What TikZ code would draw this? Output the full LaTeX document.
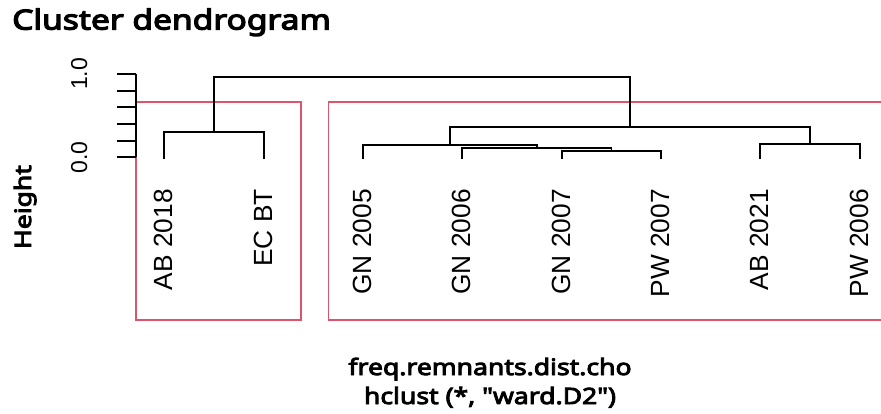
\documentclass[tikz,border=0pt]{standalone}
\usepackage{fontspec}
\setmainfont{Noto Sans}
\newfontfamily\bfnoto{Noto Sans}[FakeBold=4, FakeStretch=1.18]
\newfontfamily\bftitle{Noto Sans}[FakeBold=4.5, FakeStretch=1.22]
\newfontfamily\labfont{Liberation Sans}
\definecolor{rpink}{HTML}{DF536B}
\begin{document}
\begin{tikzpicture}[x=1pt,y=-1pt,
  dline/.style={line width=1.9pt, line cap=rect},
  pbox/.style={draw=rpink, line width=1.9pt},
  leaflab/.style={rotate=90, anchor=base east, inner sep=0pt, font=\labfont\fontsize{26.3}{30}\selectfont},
  ticklab/.style={rotate=90, anchor=base, inner sep=0pt, font=\labfont\fontsize{23}{27}\selectfont},
  boldlab/.style={inner sep=0pt, font=\bfnoto\fontsize{22.5}{27}\selectfont}]
\useasboundingbox (0,0) rectangle (881,413);
% leaves
\coordinate (l1) at (164,158);
\coordinate (l2) at (264,158);
\coordinate (l3) at (363,158);
\coordinate (l4) at (462,158);
\coordinate (l5) at (562,158);
\coordinate (l6) at (661,158);
\coordinate (l7) at (760,158);
\coordinate (l8) at (860,158);
% merges
\coordinate (m1) at (214,131.7);
\coordinate (m2) at (611.5,151);
\coordinate (m3) at (537,148.3);
\coordinate (m4) at (450,145);
\coordinate (m5) at (810,143.7);
\coordinate (m6) at (630,126.7);
\coordinate (root) at (422,76.7);
% pink boxes
\draw[pbox] (136,102) rectangle (301,320);
\draw[pbox] (328.5,102) rectangle (895,320);
% dendrogram
\draw[dline] (l1) |- (m1) -| (l2);
\draw[dline] (l5) |- (m2) -| (l6);
\draw[dline] (l4) |- (m3) -| (m2);
\draw[dline] (l3) |- (m4) -| (m3);
\draw[dline] (l7) |- (m5) -| (l8);
\draw[dline] (m4) |- (m6) -| (m5);
\draw[dline] (m1) |- (root) -| (m6);
% axis
\coordinate (a0) at (136,157.3);
\coordinate (a1) at (136,74);
\draw[line width=1.9pt] (a0) -- (a1);
\foreach \i in {0,...,5} {
  \draw[line width=1.9pt] (136,157.3-16.66*\i) -- (117,157.3-16.66*\i);
}
\node[ticklab] (t0) at (87,157.3) {0.0};
\node[ticklab] (t1) at (87,74) {1.0};
% labels
\foreach \x/\t [count=\k] in {164/AB 2018,264/EC BT,363/GN 2005,462/GN 2006,562/GN 2007,661/PW 2007,760/AB 2021,860/PW 2006} {
  \node[leaflab] (lab\k) at (\x+8.5,189) {\t};
}
\node[anchor=base west, inner sep=0pt, font=\bftitle\fontsize{27.5}{32}\selectfont] (title) at (12,29.5) {Cluster dendrogram};
\node[boldlab, rotate=90, anchor=base] (ylab) at (31,207) {Height};
\node[boldlab, anchor=base] (xlab1) at (490,375) {freq.remnants.dist.cho};
\node[boldlab, anchor=base] (xlab2) at (490,404) {hclust (*, \symbol{"22}ward.D2\symbol{"22})};
\end{tikzpicture}
\end{document}
